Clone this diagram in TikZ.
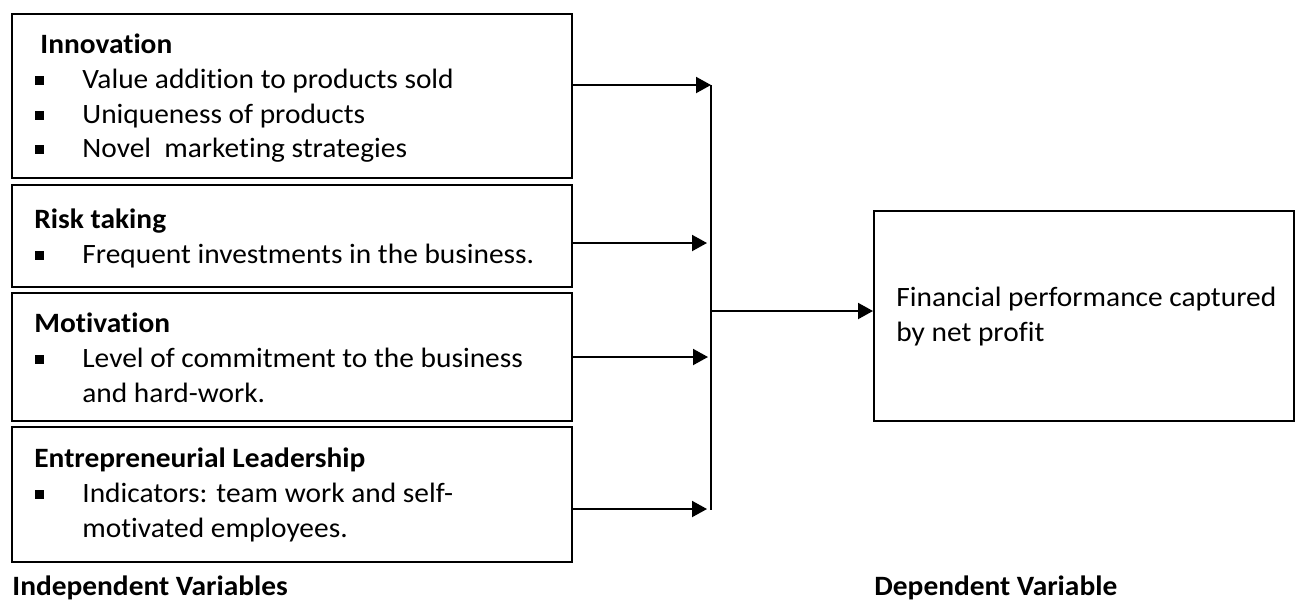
\documentclass[tikz,border=0pt]{standalone}
\usepackage{fontspec}
\setmainfont{Carlito}[FakeStretch=1.05, Ligatures=NoCommon]
\usetikzlibrary{arrows.meta,fit}
\begin{document}
\begin{tikzpicture}[x=0.5pt,y=-0.5pt,
  ivbox/.style={draw, line width=1.4pt, inner sep=0pt},
  txt/.style={anchor=base west, inner sep=0pt, font=\fontsize{14}{17}\selectfont},
  hd/.style={anchor=base west, inner sep=0pt, font=\fontsize{14}{17}\selectfont\bfseries},
  bul/.style={fill, minimum size=4.5pt, inner sep=0pt},
  arr/.style={-{Triangle[length=7.5pt,width=8pt]}, line width=1pt}
]
\useasboundingbox (0,0) rectangle (1296,601);
% boxes
\node[ivbox, fit={(12,14) (572,178)}] (b1) {};
\node[ivbox, fit={(12,185) (572,287)}] (b2) {};
\node[ivbox, fit={(12,293) (572,421)}] (b3) {};
\node[ivbox, fit={(12,427) (572,562)}] (b4) {};
\node[draw, line width=1pt, inner sep=0pt, fit={(874,211) (1294,421)}] (dv) {};
% box 1
\node[hd] (t1) at (40,53) {Innovation};
\node[bul] (u11) at (39,80) {};
\node[txt] (t11) at (82,88) {Value addition to products sold};
\node[bul] (u12) at (39,115) {};
\node[txt] (t12) at (82,123) {Uniqueness of products};
\node[bul] (u13) at (39,149) {};
\node[txt] (t13) at (82,157) {Novel\ \ marketing strategies};
% box 2
\node[hd] (t2) at (34,228) {Risk taking};
\node[bul] (u21) at (39,255) {};
\node[txt] (t21) at (82,263) {Frequent investments in the business.};
% box 3
\node[hd] (t3) at (34,332) {Motivation};
\node[bul] (u31) at (39,359) {};
\node[txt] (t31) at (82,367) {Level of commitment to the business};
\node[txt] (t32) at (82,402) {and hard-work.};
% box 4
\node[hd] (t4) at (34,467) {Entrepreneurial Leadership};
\node[bul] (u41) at (39,494) {};
\node[txt] (t41) at (82,502) {Indicators: team work and self-};
\node[txt] (t42) at (82,537) {motivated employees.};
% dependent
\node[txt] (d1) at (896,306) {Financial performance captured};
\node[txt] (d2) at (896,341) {by net profit};
% captions
\node[hd] (c1) at (12,595) {Independent Variables};
\node[hd] (c2) at (874,595) {Dependent Variable};
% connectors
\coordinate (vt) at (711,85);
\coordinate (vb) at (711,510);
\coordinate (j2) at (707,243);
\coordinate (j3) at (708,357);
\coordinate (j4) at (707,509);
\coordinate (jo) at (711,311);
\draw[line width=0.6pt] (vt) -- (vb);
\draw[arr] (b1.east |- vt) -- (vt);
\draw[arr] (b2.east |- j2) -- (j2);
\draw[arr] (b3.east |- j3) -- (j3);
\draw[arr] (b4.east |- j4) -- (j4);
\draw[arr] (jo) -- (dv.west |- jo);
\end{tikzpicture}
\end{document}
